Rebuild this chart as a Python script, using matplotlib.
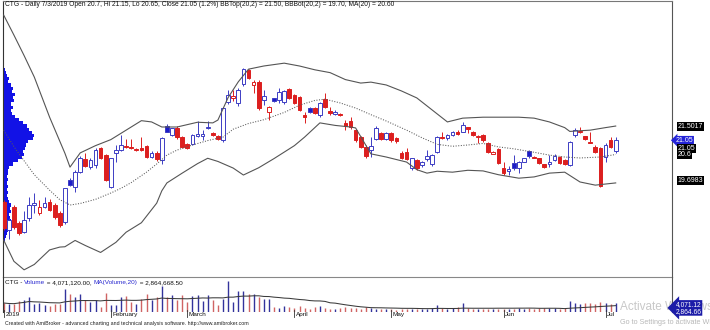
import matplotlib
matplotlib.use('Agg')
import matplotlib.pyplot as plt
import matplotlib.transforms as mtransforms
import numpy as np
import pandas as pd

plt.rcParams['font.family'] = ['Liberation Sans', 'DejaVu Sans']

# daily candles, 2 Jan 2019 .. 3 Jul 2019 (index = trading day)
opens = [19.11, 18.21, 18.95, 18.42, 18.16, 18.58, 19.00, 18.74, 18.95, 19.10,
         19.00, 18.74, 18.47, 19.79, 19.58, 20.06, 20.45, 20.21, 20.27, 20.80,
         20.58, 19.58, 20.64, 20.74, 20.87, 20.85, 20.74, 20.80, 20.87, 20.53,
         20.66, 20.42, 21.50, 21.22, 21.43, 21.16, 20.93, 20.93, 21.19, 21.20,
         21.43, 21.29, 21.20, 21.06, 22.27, 22.38, 22.22, 22.82, 23.27, 22.80,
         22.90, 22.32, 21.95, 22.38, 22.32, 22.27, 22.66, 22.48, 22.43, 21.85,
         22.06, 22.06, 21.85, 22.35, 21.98, 21.88, 21.88, 21.59, 21.66, 21.37,
         21.16, 20.85, 20.74, 21.08, 21.29, 21.08, 21.27, 21.12, 20.64, 20.69,
         20.16, 20.42, 20.27, 20.45, 20.30, 20.69, 21.16, 21.11, 21.22, 21.32,
         21.32, 21.46, 21.32, 21.16, 21.22, 20.95, 20.62, 20.77, 20.16, 20.08,
         20.34, 20.17, 20.37, 20.72, 20.53, 20.48, 20.29, 20.30, 20.42, 20.53,
         20.42, 20.27, 21.22, 21.30, 21.18, 21.00, 20.85, 20.80, 20.53, 21.06,
         20.70]
highs = [19.15, 18.60, 19.00, 18.50, 18.80, 19.26, 19.38, 19.16, 19.26, 19.20,
         19.05, 18.80, 19.55, 19.85, 20.10, 20.55, 20.65, 20.50, 20.80, 20.85,
         20.60, 20.50, 20.90, 21.22, 21.10, 21.10, 20.80, 21.15, 20.90, 20.70,
         20.70, 21.15, 21.55, 21.45, 21.50, 21.20, 20.95, 21.25, 21.66, 21.37,
         21.66, 21.30, 21.22, 22.10, 22.64, 22.65, 22.70, 23.35, 23.30, 22.95,
         22.95, 22.64, 22.15, 22.40, 22.70, 22.65, 22.70, 22.50, 22.45, 21.95,
         22.10, 22.10, 22.25, 22.54, 22.11, 22.00, 21.90, 21.69, 21.80, 21.40,
         21.20, 20.90, 21.16, 21.50, 21.30, 21.30, 21.30, 21.15, 20.70, 20.80,
         20.50, 20.45, 20.40, 20.74, 20.60, 21.20, 21.32, 21.25, 21.35, 21.37,
         21.64, 21.48, 21.35, 21.22, 21.25, 21.00, 20.70, 20.80, 20.37, 20.22,
         20.58, 20.40, 20.50, 20.75, 20.55, 20.50, 20.30, 20.58, 20.60, 20.55,
         20.45, 21.02, 21.45, 21.48, 21.20, 21.32, 20.90, 20.85, 20.95, 21.15,
         21.15]
lows = [18.20, 17.92, 18.25, 18.05, 18.10, 18.50, 18.75, 18.70, 18.90, 18.80,
        18.55, 18.30, 18.40, 19.60, 19.42, 20.00, 20.20, 20.15, 20.16, 20.45,
        19.75, 19.55, 20.37, 20.70, 20.80, 20.78, 20.70, 20.72, 20.50, 20.50,
        20.40, 20.30, 21.30, 21.20, 21.10, 20.80, 20.77, 20.90, 21.15, 21.06,
        21.40, 21.20, 21.05, 21.00, 22.20, 22.30, 22.15, 22.78, 22.98, 22.53,
        22.00, 22.16, 21.69, 22.25, 22.22, 22.20, 22.35, 22.20, 21.98, 21.59,
        21.90, 21.88, 21.80, 22.08, 21.85, 21.85, 21.82, 21.37, 21.40, 21.00,
        20.80, 20.50, 20.53, 21.05, 21.05, 21.05, 21.00, 20.95, 20.45, 20.42,
        20.10, 20.10, 20.20, 20.40, 20.25, 20.65, 21.08, 21.05, 21.20, 21.22,
        21.30, 21.27, 21.20, 20.95, 21.00, 20.65, 20.60, 20.30, 19.95, 19.95,
        20.12, 20.00, 20.35, 20.50, 20.48, 20.30, 20.18, 20.21, 20.40, 20.30,
        20.28, 20.25, 21.15, 21.28, 21.05, 20.95, 20.65, 19.58, 20.37, 20.80,
        20.65]
closes = [18.27, 18.53, 18.31, 18.10, 18.53, 19.00, 19.05, 18.95, 19.06, 18.84,
          18.63, 18.37, 19.53, 19.64, 20.06, 20.48, 20.24, 20.42, 20.74, 20.48,
          19.79, 20.48, 20.74, 20.90, 20.83, 20.80, 20.78, 20.75, 20.53, 20.64,
          20.45, 21.11, 21.32, 21.43, 21.16, 20.83, 20.80, 21.22, 21.24, 21.26,
          21.48, 21.22, 21.10, 22.06, 22.48, 22.45, 22.64, 23.30, 23.01, 22.90,
          22.06, 22.45, 22.11, 22.30, 22.59, 22.62, 22.38, 22.22, 22.01, 21.80,
          21.95, 21.90, 22.22, 22.11, 21.92, 21.95, 21.85, 21.50, 21.46, 21.06,
          20.85, 20.55, 20.87, 21.43, 21.08, 21.27, 21.06, 21.03, 20.50, 20.45,
          20.48, 20.16, 20.37, 20.55, 20.58, 21.16, 21.11, 21.22, 21.32, 21.25,
          21.53, 21.40, 21.22, 21.20, 21.06, 20.69, 20.67, 20.34, 20.00, 20.14,
          20.17, 20.37, 20.48, 20.55, 20.50, 20.32, 20.21, 20.37, 20.55, 20.32,
          20.30, 21.00, 21.37, 21.34, 21.08, 20.96, 20.69, 19.60, 20.90, 20.85,
          21.05]
# volume, millions of shares
volumes = [4.07, 3.62, 3.62, 4.97, 5.42, 6.78, 3.62, 4.07, 3.16, 2.71,
           3.62, 3.62, 10.40, 8.14, 6.78, 8.14, 5.42, 4.52, 5.42, 2.26,
           8.59, 3.16, 3.16, 6.78, 7.23, 4.52, 3.62, 5.88, 8.14, 5.42,
           6.78, 11.75, 6.78, 7.68, 5.42, 7.68, 4.52, 7.23, 7.68, 4.97,
           7.68, 5.42, 3.16, 5.88, 14.01, 4.52, 9.49, 9.49, 8.14, 8.14,
           6.78, 5.88, 5.88, 2.26, 1.81, 2.71, 2.26, 1.81, 2.71, 1.81,
           1.36, 2.26, 2.71, 1.81, 1.36, 1.36, 1.81, 2.26, 1.81, 1.81,
           1.36, 2.26, 1.81, 1.36, 1.36, 1.36, 1.36, 0.90, 1.36, 1.36,
           1.36, 1.36, 1.36, 1.36, 1.81, 3.16, 1.81, 1.36, 1.81, 2.26,
           4.07, 1.81, 1.36, 1.36, 1.36, 1.36, 1.36, 1.36, 1.36, 1.36,
           1.36, 1.81, 1.36, 1.81, 1.36, 1.81, 1.81, 1.81, 1.81, 1.36,
           1.81, 4.97, 4.07, 3.62, 4.07, 4.07, 3.62, 4.52, 4.07, 3.62,
           4.07112]

# Bollinger bands (20,2) and MA(20): (day index, price)
upper_idx = [0, 2, 4, 6, 9, 12, 13, 15, 18, 21, 24, 27, 29, 31, 34, 38, 41, 42,
             44, 46, 48, 51, 55, 58, 61, 64, 67, 70, 72, 75, 78, 81, 84, 87, 90,
             94, 97, 101, 104, 107, 110, 111, 115, 118, 120]
upper_val = [25.01, 24.38, 23.73, 23.05, 21.78, 20.64, 20.20, 20.65, 20.88, 21.07,
             21.37, 21.67, 21.63, 21.47, 21.47, 21.62, 21.60, 21.69, 22.40, 22.90,
             23.30, 23.40, 23.49, 23.40, 23.28, 23.19, 22.97, 22.86, 22.89, 22.80,
             22.61, 22.39, 22.01, 21.63, 21.75, 21.78, 21.78, 21.78, 21.75, 21.63,
             21.45, 21.33, 21.37, 21.45, 21.50]
mid_idx = [0, 2, 4, 6, 9, 11, 13, 15, 18, 21, 23, 25, 28, 30, 32, 34, 37, 40, 43,
           45, 48, 51, 55, 58, 61, 63, 66, 69, 72, 75, 79, 82, 85, 88, 91, 94, 97,
           100, 104, 107, 110, 113, 117, 120]
mid_val = [21.37, 20.85, 20.40, 19.96, 19.47, 19.17, 19.00, 19.05, 19.18, 19.38,
           19.53, 19.71, 20.04, 20.30, 20.58, 20.74, 20.90, 21.04, 21.15, 21.40,
           21.58, 21.70, 21.93, 22.16, 22.31, 22.35, 22.23, 22.07, 21.86, 21.66,
           21.37, 21.13, 20.92, 20.86, 20.90, 20.95, 20.84, 20.78, 20.67, 20.58,
           20.52, 20.49, 20.52, 20.60]
lower_idx = [0, 2, 4, 6, 9, 11, 12, 14, 16, 19, 22, 24, 27, 30, 31, 32, 35, 38,
             40, 42, 45, 47, 50, 53, 57, 59, 62, 65, 68, 69, 72, 75, 79, 81, 83,
             85, 88, 91, 94, 97, 101, 104, 107, 110, 113, 116, 120]
lower_val = [17.89, 17.22, 16.95, 17.12, 17.58, 17.67, 17.68, 17.88, 17.72, 17.50,
             17.82, 18.14, 18.44, 19.06, 19.45, 19.70, 20.01, 20.31, 20.48, 20.38,
             20.17, 19.95, 20.18, 20.47, 20.88, 21.15, 21.60, 21.52, 21.47, 21.44,
             20.62, 20.52, 20.36, 20.12, 20.01, 20.07, 20.04, 20.10, 20.08, 19.96,
             19.85, 19.89, 20.01, 20.04, 19.73, 19.63, 19.70]

# price volume distribution on the left edge (relative volume per 0.1 level)
vp_price = [23.3, 23.2, 23.1, 23.0, 22.9, 22.8, 22.7, 22.6, 22.5, 22.4, 22.3,
            22.2, 22.1, 22.0, 21.9, 21.8, 21.7, 21.6, 21.5, 21.4, 21.3, 21.2,
            21.1, 21.0, 20.9, 20.8, 20.7, 20.6, 20.5, 20.4, 20.3, 20.2, 20.1,
            20.0, 19.9, 19.8, 19.7, 19.6, 19.5, 19.4, 19.3, 19.2, 19.1, 19.0,
            18.9, 18.8, 18.7, 18.6, 18.5, 18.4, 18.3, 18.2, 18.1, 18.0, 17.9]
vp_vol = [2, 3, 4, 6, 5, 8, 10, 9, 12, 10, 11, 8, 10, 8, 9, 12, 16, 20, 24, 26,
          29, 31, 30, 25, 23, 22, 20, 21, 19, 15, 10, 6, 5, 5, 4, 5, 4, 5, 4, 5,
          4, 5, 6, 8, 7, 8, 6, 7, 8, 6, 7, 5, 4, 3, 2]

tick_idx = [0, 21, 36, 57, 76, 98, 118]
tick_lbl = ['2019', 'February', 'March', 'April', 'May', 'Jun', 'Jul']

RED = '#dc1f1f'
BLUE = '#3d3dc4'
BLUE_FILL = '#1c1cc8'
VOL_RED = '#d06464'
VOL_BLUE = '#33339c'

W, H = 710.0, 330.0


def frame(x0, y0, x1, y1):
  # pixel box -> figure fraction rect
  return [x0 / W, 1 - y1 / H, (x1 - x0) / W, (y1 - y0) / H]


fig = plt.figure(figsize=(7.1, 3.3), dpi=100)
ax = fig.add_axes(frame(2.7, 1, 672, 277))
axv = fig.add_axes(frame(2.7, 277, 672, 312))
axv.patch.set_alpha(0)

o = np.array(opens)
h = np.array(highs)
l = np.array(lows)
c = np.array(closes)
v = np.array(volumes)
x = np.arange(len(c))
prev = np.concatenate([[o[0]], c[:-1]])

x_lo, x_hi = -1 / 5.1, (672 - 3.7) / 5.1

# volume profile behind everything
vp = np.array(vp_vol, dtype=float)
ax.barh(vp_price, vp / vp.max() * 6.1, height=0.1, left=x_lo,
        color='#1212e6', linewidth=0, zorder=1)

# candles: outline colour by change vs previous close, filled when close < open
edge = [BLUE if c[i] > prev[i] else RED for i in x]
face = []
for i in x:
  if c[i] >= o[i]:
    face.append('white')
  else:
    face.append(BLUE_FILL if c[i] > prev[i] else RED)

ax.vlines(x, l, h, colors=edge, linewidth=0.7, zorder=2)
body_lo = np.minimum(o, c)
body_h = np.maximum(np.abs(c - o), 0.025)
ax.bar(x, body_h, bottom=body_lo, width=0.72, color=face, edgecolor=edge,
       linewidth=0.7, zorder=3)

# bands
ax.plot(upper_idx, upper_val, color='#555555', linewidth=0.8, zorder=4)
ax.plot(lower_idx, lower_val, color='#555555', linewidth=0.8, zorder=4)
ax.plot(mid_idx, mid_val, color='#5a5a5a', linewidth=0.75,
        linestyle=(0, (1, 1.5)), zorder=4)

ax.set_xlim(x_lo, x_hi)
ax.set_ylim(16.723, 25.457)
ax.set_xticks([])
ax.set_yticks([])
for side in ['left', 'right', 'top', 'bottom']:
  ax.spines[side].set_linewidth(0.8)
ax.spines['left'].set_color('#333333')
ax.spines['right'].set_color('#555555')
ax.spines['top'].set_color('#777777')
ax.spines['bottom'].set_color('#888888')

# right-hand price tags
blend = mtransforms.blended_transform_factory(ax.transAxes, ax.transData)


def tag(axis, trans, val, text, fc, dx=4, dy=0, style='square,pad=0.15'):
  axis.annotate(text, xy=(1.0, val), xycoords=trans, xytext=(dx, dy),
                textcoords='offset points', ha='left', va='center',
                fontsize=5, color='white', annotation_clip=False,
                bbox=dict(boxstyle=style, fc=fc, ec='none'))


tag(ax, blend, upper_val[-1], '21.5017', 'black')
tag(ax, blend, c[-1], '%.2f' % c[-1], '#2424d8', dx=2.5,
    style='larrow,pad=0.12')
tag(ax, blend, c[-1], '%.2f' % c[-1], 'black', dy=-5.8)
tag(ax, blend, mid_val[-1], '20.6', 'black')
tag(ax, blend, lower_val[-1], '19.6983', 'black', dy=2)

# volume pane
vcol = [VOL_BLUE if c[i] >= o[i] else VOL_RED for i in x]
axv.vlines(x, 0, v, colors=vcol, linewidth=1.0)
vol_ma = pd.Series(v).rolling(20, min_periods=1).mean().values
axv.plot(x, vol_ma, color='#3a3a3a', linewidth=0.75)
axv.set_xlim(x_lo, x_hi)
axv.set_ylim(0, 15.82)
axv.set_xticks([])
axv.set_yticks([])
axv.spines['top'].set_visible(False)
axv.spines['bottom'].set_visible(False)
axv.spines['left'].set_color('#333333')
axv.spines['right'].set_color('#555555')
axv.spines['left'].set_linewidth(0.8)
axv.spines['right'].set_linewidth(0.8)

vblend = mtransforms.blended_transform_factory(axv.transAxes, axv.transData)
axv.annotate('4,071.12\n2,864.66', xy=(1.0, v[-1]), xycoords=vblend,
             xytext=(2.5, 1.5), textcoords='offset points', ha='left', va='top',
             fontsize=4.8, color='white', annotation_clip=False,
             linespacing=1.0,
             bbox=dict(boxstyle='larrow,pad=0.12', fc='#1c1ca8', ec='none'))

# date axis
dblend = mtransforms.blended_transform_factory(axv.transData, axv.transAxes)
for t, s in zip(tick_idx, tick_lbl):
  axv.plot([t, t], [0.06, -0.15], transform=dblend, color='#333333',
           linewidth=0.6, clip_on=False)
  axv.annotate(s, xy=(t, 0), xycoords=dblend, xytext=(1.2, 0.2),
               textcoords='offset points', ha='left', va='top', fontsize=4.6,
               color='#111111', annotation_clip=False)

# titles
fig.text(5 / W, 1 - 4.5 / H,
         'CTG - Daily 7/3/2019 Open 20.7, Hi 21.15, Lo 20.65, Close 21.05 (1.2%) '
         'BBTop(20,2) = 21.50, BBBot(20,2) = 19.70, MA(20) = 20.60',
         fontsize=4.75, va='center', ha='left', color='#111111')

# volume title: pieces in different colours, laid end to end
parts = [('CTG - ', '#111111'), ('Volume', '#2a2ad0'),
         (' = 4,071,120.00, ', '#111111'), ('MA(Volume,20)', '#2a2ad0'),
         (' = 2,864,668.50', '#111111')]
renderer = fig.canvas.get_renderer()
xpos = 5.0
for s, col in parts:
  t = fig.text(xpos / W, 1 - 282.5 / H, s, fontsize=4.6, color=col,
               va='center', ha='left')
  bb = t.get_window_extent(renderer)
  xpos = bb.x1

fig.text(5 / W, 1 - 323 / H,
         'Created with AmiBroker - advanced charting and technical analysis '
         'software. http://www.amibroker.com',
         fontsize=3.75, va='center', ha='left', color='#222222')

# windows activation watermark, underneath the volume pane and its tags
fig.text(620 / W, 1 - 307 / H, 'Activate Windows', fontsize=8.5,
         color='#c8c8c8', va='center', ha='left', zorder=-1)
fig.text(620 / W, 1 - 322 / H, 'Go to Settings to activate Windows.',
         fontsize=5.2, color='#b8b8b8', va='center', ha='left', zorder=-1)

fig.savefig('out.png', dpi=100, facecolor='white')
